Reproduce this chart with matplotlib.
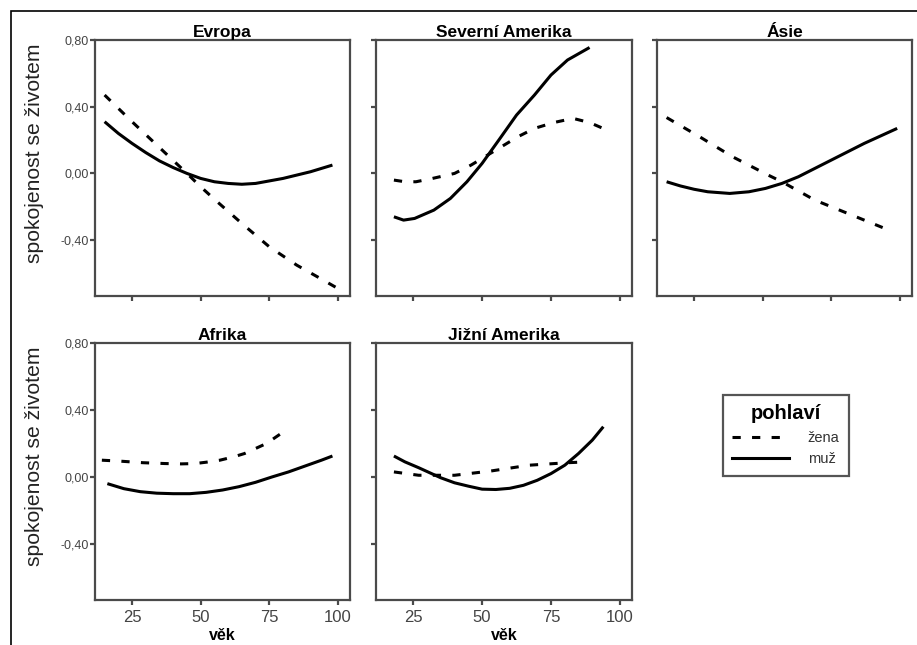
import numpy as np
import matplotlib
matplotlib.use("Agg")
import matplotlib.pyplot as plt
from matplotlib.lines import Line2D
from matplotlib.patches import Rectangle
from matplotlib.ticker import FuncFormatter

plt.rcParams['font.family'] = ['Liberation Sans', 'DejaVu Sans']

# data: age (vek) vs life satisfaction
regions = ["Evropa", "Severní Amerika", "Ásie", "Afrika", "Jižní Amerika"]

eu_zena_x = [15, 25, 35, 45, 50, 55, 65, 75, 85, 92, 100]
eu_zena_y = [0.47, 0.31, 0.155, 0.0, -0.08, -0.155, -0.30, -0.44, -0.55, -0.615, -0.69]
eu_muz_x = [15, 20, 25, 30, 35, 40, 45, 50, 55, 60, 65, 70, 75, 80, 85, 90, 98]
eu_muz_y = [0.31, 0.24, 0.18, 0.125, 0.075, 0.035, 0.0, -0.03, -0.05, -0.06, -0.065,
            -0.06, -0.045, -0.03, -0.01, 0.01, 0.05]

sa_zena_x = [18, 22, 26, 32, 40, 46, 52, 57, 63, 69, 76, 83, 89, 96]
sa_zena_y = [-0.04, -0.05, -0.05, -0.03, 0.0, 0.05, 0.11, 0.16, 0.22, 0.27, 0.305, 0.33, 0.305, 0.255]
sa_muz_x = [18, 21.5, 25.5, 32.5, 38.5, 44.5, 50, 56.5, 62.5, 69, 75, 81, 89]
sa_muz_y = [-0.26, -0.28, -0.27, -0.22, -0.15, -0.05, 0.06, 0.21, 0.35, 0.47, 0.59, 0.68, 0.755]

as_zena_x = [15, 27, 39, 52, 57, 69, 81, 96]
as_zena_y = [0.335, 0.22, 0.10, -0.01, -0.05, -0.16, -0.24, -0.34]
as_muz_x = [15, 20, 25, 30, 38, 45, 51, 57, 63, 69, 75, 81, 87, 93, 99]
as_muz_y = [-0.05, -0.075, -0.095, -0.11, -0.12, -0.11, -0.09, -0.06, -0.02, 0.03,
            0.08, 0.13, 0.18, 0.225, 0.27]

af_zena_x = [14, 20, 29, 37, 43, 48, 52, 57, 62, 66, 70, 74, 78, 82]
af_zena_y = [0.10, 0.095, 0.085, 0.08, 0.078, 0.08, 0.088, 0.10, 0.12, 0.14, 0.17, 0.20, 0.245, 0.29]
af_muz_x = [16, 22, 28, 34, 40, 46, 52, 58, 64, 70, 76, 82, 88, 94, 98]
af_muz_y = [-0.04, -0.07, -0.088, -0.097, -0.10, -0.10, -0.092, -0.078, -0.058, -0.032,
            0.0, 0.03, 0.065, 0.10, 0.125]

ja_zena_x = [18, 27, 40, 53, 67, 81, 88]
ja_zena_y = [0.03, 0.01, 0.01, 0.035, 0.07, 0.085, 0.09]
ja_muz_x = [18, 22, 27, 31, 35, 40, 45, 50, 55, 60, 65, 70, 75, 80, 85, 90, 94]
ja_muz_y = [0.125, 0.09, 0.055, 0.025, -0.005, -0.035, -0.055, -0.073, -0.075, -0.068,
            -0.05, -0.02, 0.02, 0.07, 0.14, 0.22, 0.30]

zena = [(eu_zena_x, eu_zena_y), (sa_zena_x, sa_zena_y), (as_zena_x, as_zena_y),
        (af_zena_x, af_zena_y), (ja_zena_x, ja_zena_y)]
muz = [(eu_muz_x, eu_muz_y), (sa_muz_x, sa_muz_y), (as_muz_x, as_muz_y),
       (af_muz_x, af_muz_y), (ja_muz_x, ja_muz_y)]

xticks = [25, 50, 75, 100]
yticks = [0.8, 0.4, 0.0, -0.4]

W, H = 917, 645
fig = plt.figure(figsize=(W/100, H/100), dpi=100)

# panel boxes in pixels (left, right, top, bottom)
cols = [(95, 350), (376, 632), (657, 912)]
rows = [(40, 296), (343, 600)]

spine_c = '#4a4a4a'
lw = 2.2
dash = (2.7, 3.7)

for i, name in enumerate(regions):
	r, c = divmod(i, 3)
	l, rr = cols[c]
	t, b = rows[r]
	ax = fig.add_axes([l/W, 1-b/H, (rr-l)/W, (b-t)/H])
	ax.plot(*zena[i], color='black', lw=lw, dashes=dash)
	ax.plot(*muz[i], color='black', lw=lw, solid_capstyle='butt')
	ax.set_xlim(11.5, 104.4)
	ax.set_ylim(-0.735, 0.80)
	ax.set_xticks(xticks)
	ax.set_yticks(yticks)
	ax.yaxis.set_major_formatter(FuncFormatter(lambda v, p: ("%.2f" % v).replace('.', ',')))
	for s in ax.spines.values():
		s.set_color(spine_c)
		s.set_linewidth(1.6)
	ax.tick_params(direction='out', length=3.5, width=1.6, color=spine_c,
	               labelcolor='#444444')
	ax.tick_params(axis='y', labelsize=9, pad=1)
	ax.tick_params(axis='x', labelsize=12, pad=4)
	if c != 0:
		ax.tick_params(axis='y', labelleft=False)
	if r == 0:
		ax.tick_params(axis='x', labelbottom=False)
	if r == 1:
		ax.set_xlabel('věk', fontsize=11.5, fontweight='bold', labelpad=2)
	ax.set_title(name, fontsize=12.5, fontweight='bold', pad=2)

# y labels
for t, b in rows:
	fig.text(35/W, 1-((t+b)/2-15)/H, 'spokojenost se životem', rotation=90,
	         ha='center', va='center', fontsize=15.2, color='#222222')

# legend
handles = [Line2D([], [], color='black', lw=lw, dashes=dash),
           Line2D([], [], color='black', lw=lw)]
leg = fig.legend(handles, ['žena', 'muž'], title='pohlaví', loc='upper left',
                 bbox_to_anchor=(723/W, 1-395/H), fontsize=10.5, handlelength=3.85,
                 handletextpad=1.3, borderpad=0.65, labelspacing=0.5,
                 fancybox=False, framealpha=1, borderaxespad=0)
leg.get_title().set_fontsize(14.5)
leg.get_title().set_fontweight('bold')
leg.get_frame().set_edgecolor('#555555')
leg.get_frame().set_linewidth(1.6)
for txt in leg.get_texts():
	txt.set_color('#333333')

# outer frame
fig.add_artist(Rectangle((11/W, -0.1), 1.2, 1.1 - 11/H, transform=fig.transFigure,
                         fill=False, edgecolor='black', lw=1.2))

fig.savefig('out.png', dpi=100)
